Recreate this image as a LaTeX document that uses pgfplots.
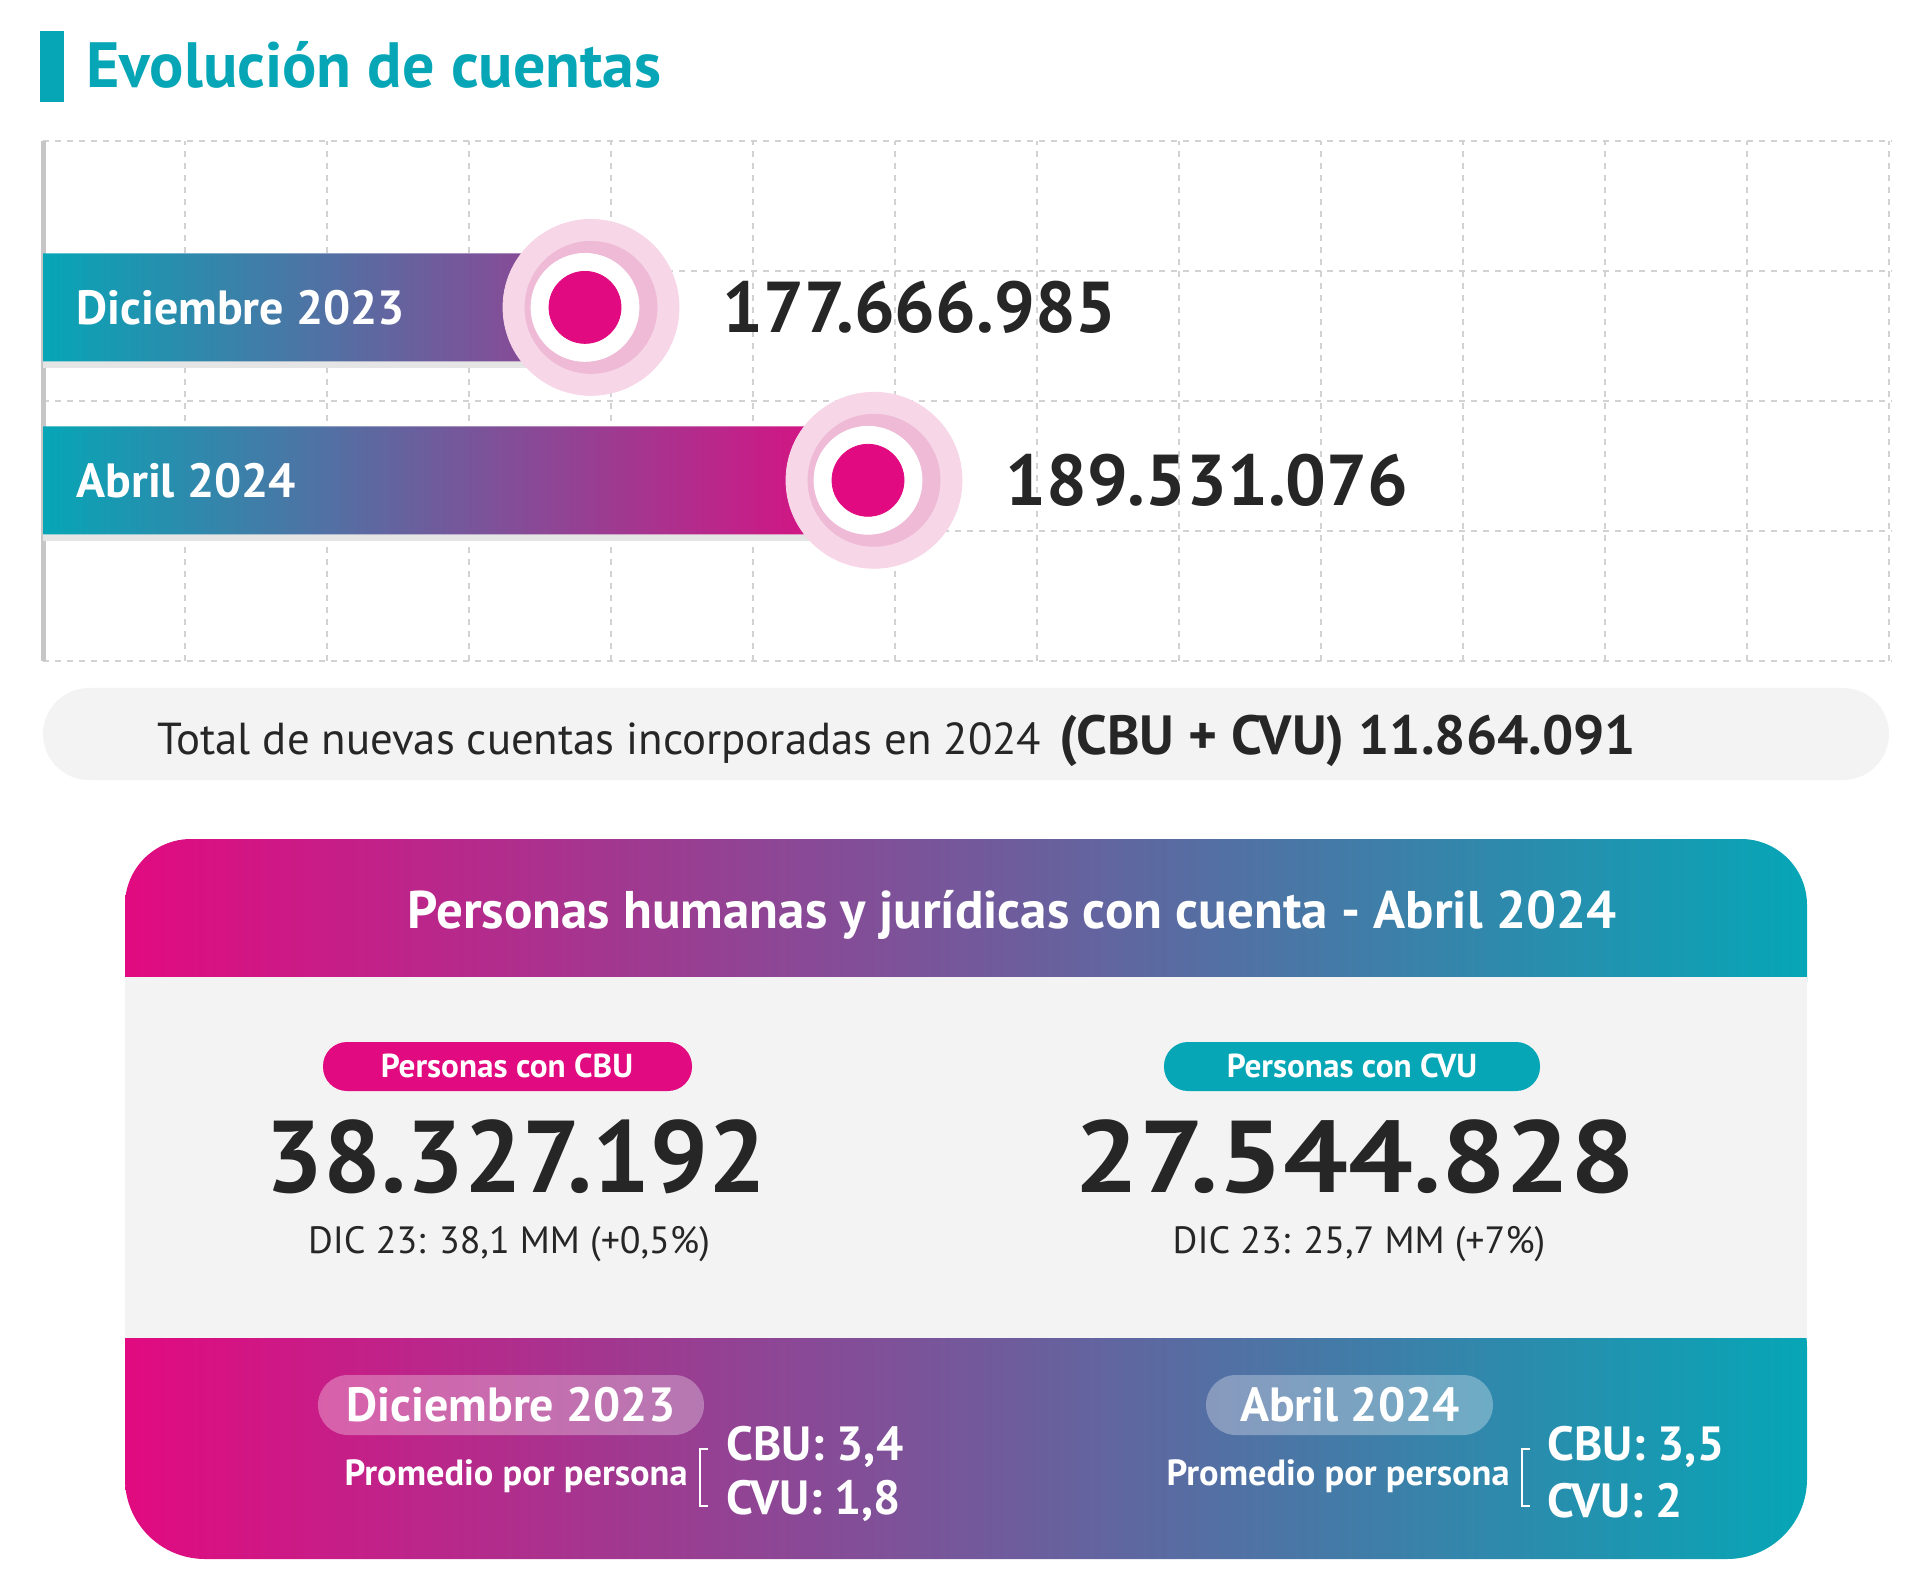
\documentclass[border=0pt]{standalone}
\usepackage{pgfplots}
\pgfplotsset{compat=1.18}
\usepackage{pgfplotstable}
\usepackage{fontspec}
\setmainfont{PT Sans}
\definecolor{magc}{HTML}{E20A80}
\definecolor{tealc}{HTML}{06A6B6}
\definecolor{pale}{HTML}{F7D6E7}
\definecolor{midpink}{HTML}{EFBAD6}
\definecolor{darktxt}{HTML}{262626}
\definecolor{lightbg}{HTML}{F3F3F3}
\definecolor{gridc}{HTML}{D2D2D2}
\newcommand{\fs}[1]{\fontsize{#1}{#1}\selectfont}
\def\base{154.945}
\pgfplotstableread{
y v label
2.72 177.666985 177.666.985
1.39 189.531076 189.531.076
}\cuentas
\begin{document}
\begin{tikzpicture}[x=0.5pt,y=0.5pt]
\path[use as bounding box] (0,0) rectangle (1920,1587);
\coordinate (axpos) at (43,926);
% title
\fill[tealc] (40,1485) rectangle (64,1556);
\node[anchor=west, inner sep=0pt, text=tealc, font=\bfseries\fs{32pt}] at (86,1522) {Evolución de cuentas};
\begin{axis}[
  at={(axpos)}, anchor=south west,
  scale only axis, width=924.5pt, height=260pt,
  xmin=0, xmax=77.514, ymin=0, ymax=4,
  xtick distance=5.953, ytick distance=1,
  xticklabels={}, yticklabels={},
  major tick length=0pt,
  grid=major, major grid style={dashed, gridc, line width=0.8pt},
  axis line style={draw=none},
  extra x ticks={0}, extra x tick labels={},
  extra x tick style={grid=major, major grid style={solid, gray!45, line width=2.5pt}},
  clip=false,
]
\addplot[only marks, mark=*, color=pale, mark size=44pt, mark options={draw=pale, fill=pale, xshift=3pt}]
  table[x expr=\thisrow{v}-\base, y=y] {\cuentas};
\addplot[only marks, mark=*, color=midpink, mark size=33pt, mark options={draw=midpink, fill=midpink, xshift=3pt}]
  table[x expr=\thisrow{v}-\base, y=y] {\cuentas};
\addplot[xbar, bar width=54pt, draw=none, fill=black!10]
  table[x expr=\thisrow{v}-\base, y expr=\thisrow{y}-0.05] {\cuentas};
\addplot[xbar, bar width=54pt, draw=none, left color=tealc, right color=magc,
  nodes near coords, point meta=explicit symbolic,
  every node near coord/.append style={anchor=west, inner sep=0pt, xshift=68.5pt, font=\bfseries\fs{36pt}, text=darktxt}]
  table[x expr=\thisrow{v}-\base, y=y, meta=label] {\cuentas};
\addplot[only marks, mark=*, color=white, mark size=27pt, mark options={draw=white, fill=white}]
  table[x expr=\thisrow{v}-\base, y=y] {\cuentas};
\addplot[only marks, mark=*, color=magc, mark size=18pt, mark options={draw=magc, fill=magc}]
  table[x expr=\thisrow{v}-\base, y=y] {\cuentas};
\node[anchor=west, inner sep=0pt, text=white, font=\bfseries\fs{24pt}, xshift=16.5pt] at (axis cs:0,2.72) {Diciembre 2023};
\node[anchor=west, inner sep=0pt, text=white, font=\bfseries\fs{24pt}, xshift=16.5pt] at (axis cs:0,1.39) {Abril 2024};
\end{axis}
% total pill
\fill[lightbg, rounded corners=23pt] (43,807) rectangle (1889,899);
\node[anchor=base west, inner sep=0pt, text=darktxt] at (157,833) {{\fs{22.4pt}Total de nuevas cuentas incorporadas en 2024}\hspace{9pt}{\bfseries\fs{27.6pt}(CBU + CVU) 11.864.091}};
% card
\shade[left color=magc, right color=tealc, rounded corners=33pt] (125,540) rectangle (1807,748);
\shade[left color=magc, right color=tealc, rounded corners=40pt] (125,28) rectangle (1807,320);
\fill[lightbg] (125,249) rectangle (1807,610);
\node[anchor=base, inner sep=0pt, text=white, font=\bfseries\fs{26.5pt}] at (1012,659) {Personas humanas y jurídicas con cuenta - Abril 2024};
% pills
\fill[magc, rounded corners=12pt] (323,496) rectangle (692,545);
\fill[tealc, rounded corners=12pt] (1164,496) rectangle (1540,545);
\node[inner sep=0pt, text=white, font=\bfseries\fs{16.6pt}] at (507,521) {Personas con CBU};
\node[inner sep=0pt, text=white, font=\bfseries\fs{16.6pt}] at (1352,521) {Personas con CVU};
\node[inner sep=0pt, text=darktxt, font=\bfseries\fs{51pt}] at (516,430) {38.327.192};
\node[inner sep=0pt, text=darktxt, font=\bfseries\fs{51pt}] at (1355,430) {\scalebox{1.12}[1]{27.544.828}};
\node[inner sep=0pt, text=darktxt, font=\fs{19pt}] at (509,343) {DIC 23: 38,1 MM (+0,5\%)};
\node[inner sep=0pt, text=darktxt, font=\fs{19pt}] at (1359,343) {DIC 23: 25,7 MM (+7\%)};
% bottom band
\fill[white, opacity=0.3, rounded corners=15pt] (318,152) rectangle (704,212);
\fill[white, opacity=0.3, rounded corners=15pt] (1206,152) rectangle (1493,212);
\node[inner sep=0pt, text=white, font=\bfseries\fs{24pt}] at (511,182) {Diciembre 2023};
\node[inner sep=0pt, text=white, font=\bfseries\fs{24pt}] at (1350,182) {Abril 2024};
\node[anchor=east, inner sep=0pt, text=white, font=\bfseries\fs{18.2pt}] at (688,111) {Promedio por persona};
\node[anchor=east, inner sep=0pt, text=white, font=\bfseries\fs{18.2pt}] at (1510,111) {Promedio por persona};
\draw[white, line width=1pt] (708,138) -- (700,138) -- (700,81) -- (708,81);
\draw[white, line width=1pt] (1530,138) -- (1522,138) -- (1522,81) -- (1530,81);
\node[anchor=west, inner sep=0pt, text=white, font=\bfseries\fs{24pt}] at (726,140) {CBU: 3,4};
\node[anchor=west, inner sep=0pt, text=white, font=\bfseries\fs{24pt}] at (726,86) {CVU: 1,8};
\node[anchor=west, inner sep=0pt, text=white, font=\bfseries\fs{24pt}] at (1547,140) {CBU: 3,5};
\node[anchor=west, inner sep=0pt, text=white, font=\bfseries\fs{24pt}] at (1547,86) {CVU: 2};
\end{tikzpicture}
\end{document}
